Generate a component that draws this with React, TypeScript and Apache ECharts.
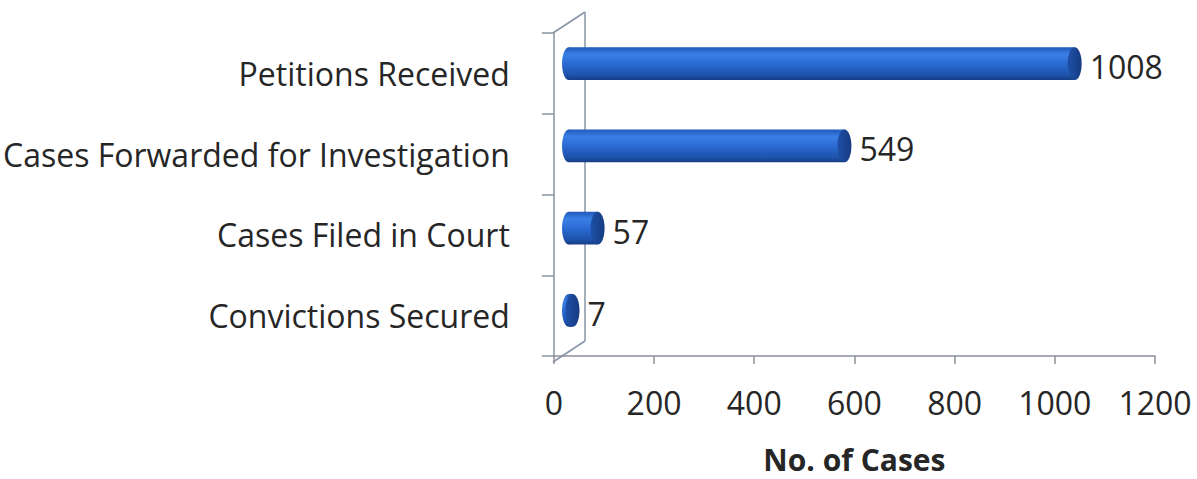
import React, { useEffect, useRef } from "react";
import * as echarts from "echarts";

const categories: string[] = [
  "Petitions Received",
  "Cases Forwarded for Investigation",
  "Cases Filed in Court",
  "Convictions Secured",
];
const values: number[] = [1008, 549, 57, 7];
const xTicks: number[] = [0, 200, 400, 600, 800, 1000, 1200];
const xAxisTitle = "No. of Cases";

// layout (front plane of the 3D plot area) and 3D depth offset
const W = 1197;
const H = 479;
const FRONT = { left: 553, top: 33, right: 42, bottom: 117 };
const DEPTH = { x: 32, y: -21 };
const FONT = "'Open Sans', 'Noto Sans', sans-serif";
const FS = 32;
const TEXT = "#262626";
const WALL = "#8794a6";

export default function App() {
  const ref = useRef<HTMLDivElement>(null);

  useEffect(() => {
    if (!ref.current) return;
    const chart = echarts.init(ref.current, undefined, { renderer: "svg" });

    const mid = { x: DEPTH.x / 2, y: DEPTH.y / 2 };
    const xMin = xTicks[0];
    const xMax = xTicks[xTicks.length - 1];
    const step = xTicks[1] - xTicks[0];

    const fx0 = FRONT.left;
    const fy0 = FRONT.top;
    const fy1 = H - FRONT.bottom;

    const bodyGrad = {
      type: "linear",
      x: 0, y: 0, x2: 0, y2: 1,
      colorStops: [
        { offset: 0, color: "#2158b8" },
        { offset: 0.22, color: "#3a7fe6" },
        { offset: 0.5, color: "#2b6bd3" },
        { offset: 0.85, color: "#1d52ab" },
        { offset: 1, color: "#173d84" },
      ],
    };
    const capGrad = {
      type: "linear",
      x: 0, y: 0, x2: 1, y2: 0,
      colorStops: [
        { offset: 0, color: "#1e4fa6" },
        { offset: 1, color: "#163c82" },
      ],
    };

    chart.setOption({
      animation: false,
      backgroundColor: "#ffffff",
      grid: [
        { left: FRONT.left, top: FRONT.top, right: FRONT.right, bottom: FRONT.bottom },
        {
          left: FRONT.left + mid.x,
          top: FRONT.top + mid.y,
          right: FRONT.right - mid.x,
          bottom: FRONT.bottom - mid.y,
        },
      ],
      xAxis: [
        {
          gridIndex: 0,
          type: "value",
          min: xMin,
          max: xMax,
          interval: step,
          splitLine: { show: false },
          axisLine: { show: true, lineStyle: { color: "#8a8f98", width: 1.5 } },
          axisTick: { show: true, length: 8, lineStyle: { color: "#8a8f98", width: 1.5 } },
          axisLabel: {
            margin: 30,
            color: TEXT,
            fontFamily: FONT,
            fontSize: FS,
            formatter: (v: number) => String(v),
          },
          name: xAxisTitle,
          nameLocation: "middle",
          nameGap: 88,
          nameTextStyle: { color: TEXT, fontFamily: FONT, fontSize: 30, fontWeight: "bold" },
        },
        {
          gridIndex: 1,
          type: "value",
          min: xMin,
          max: xMax,
          interval: step,
          show: false,
        },
      ],
      yAxis: [
        {
          gridIndex: 0,
          type: "category",
          data: categories,
          inverse: true,
          axisLine: { show: true, lineStyle: { color: WALL, width: 1.5 } },
          axisTick: { show: true, length: 12, lineStyle: { color: WALL, width: 1.5 } },
          axisLabel: {
            margin: 44,
            color: TEXT,
            fontFamily: FONT,
            fontSize: FS,
            padding: [6, 0, 0, 0],
          },
          splitLine: { show: false },
        },
        {
          gridIndex: 1,
          type: "category",
          data: categories,
          inverse: true,
          show: false,
        },
      ],
      graphic: [
        {
          type: "line",
          shape: { x1: fx0, y1: fy0, x2: fx0 + DEPTH.x, y2: fy0 + DEPTH.y },
          style: { stroke: WALL, lineWidth: 1.5 },
        },
        {
          type: "line",
          shape: { x1: fx0 + DEPTH.x, y1: fy0 + DEPTH.y, x2: fx0 + DEPTH.x, y2: fy1 + DEPTH.y },
          style: { stroke: WALL, lineWidth: 1.5 },
        },
        {
          type: "line",
          shape: { x1: fx0, y1: fy1, x2: fx0 + DEPTH.x, y2: fy1 + DEPTH.y },
          style: { stroke: WALL, lineWidth: 1.5 },
        },
      ],
      series: [
        {
          type: "custom",
          xAxisIndex: 1,
          yAxisIndex: 1,
          encode: { x: 0, y: 1 },
          data: values.map((v, i) => [v, i]),
          renderItem: (params: any, api: any) => {
            const v = api.value(0);
            const c = api.value(1);
            const s = api.coord([0, c]);
            const e = api.coord([v, c]);
            const band = api.size([0, 1])[1];
            const h = band * 0.4;
            const ry = h / 2;
            const rx = 7;
            return {
              type: "group",
              children: [
                {
                  type: "ellipse",
                  shape: { cx: s[0], cy: s[1], rx, ry },
                  style: { fill: bodyGrad },
                },
                {
                  type: "rect",
                  shape: { x: s[0], y: s[1] - ry, width: Math.max(0, e[0] - s[0]), height: h },
                  style: { fill: bodyGrad },
                },
                {
                  type: "ellipse",
                  shape: { cx: e[0], cy: e[1], rx, ry },
                  style: { fill: capGrad },
                },
                {
                  type: "text",
                  style: {
                    text: String(v),
                    x: e[0] + rx + 8,
                    y: e[1] + 3,
                    fill: TEXT,
                    font: `${FS}px ${FONT}`,
                    textAlign: "left",
                    textVerticalAlign: "middle",
                  },
                },
              ],
            };
          },
        },
      ],
    });

    return () => chart.dispose();
  }, []);

  return (
    <div
      ref={ref}
      style={{ position: "fixed", left: 0, top: 0, width: W, height: H, background: "#fff" }}
    />
  );
}
